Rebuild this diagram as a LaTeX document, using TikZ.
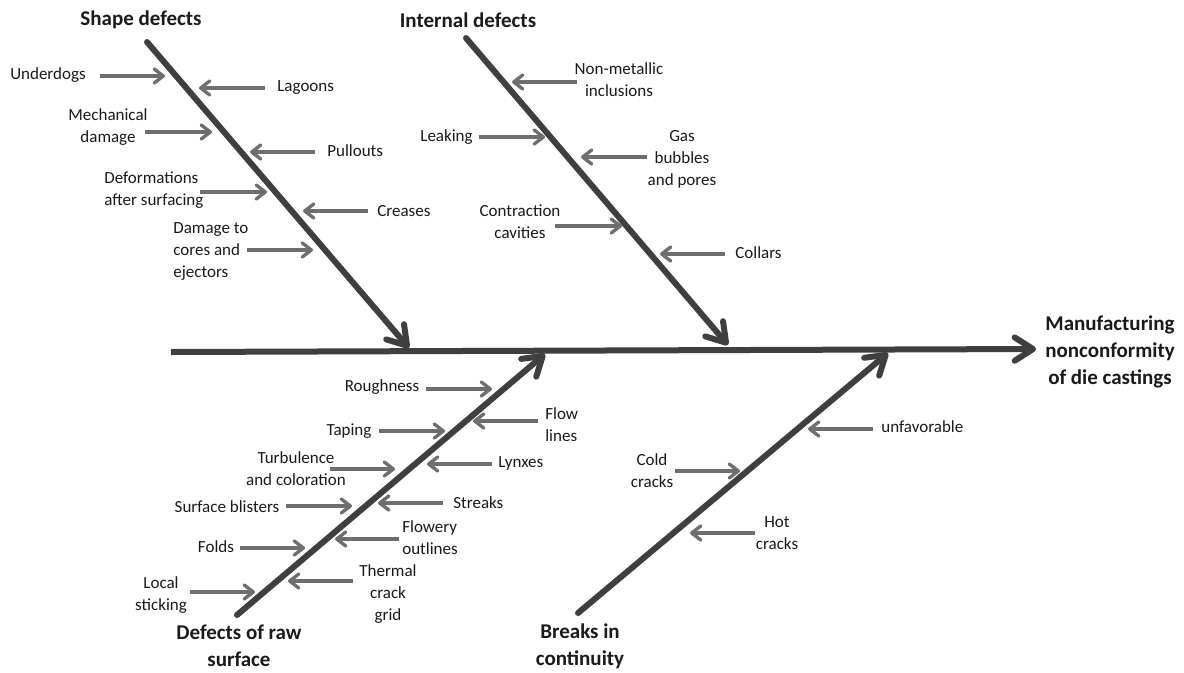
\documentclass[tikz,border=0pt]{standalone}
\usepackage{fontspec}
\setmainfont{Carlito}
\usetikzlibrary{arrows.meta}
\definecolor{bonecol}{HTML}{3F3F3F}
\definecolor{causecol}{HTML}{6E6E6E}
\definecolor{txtcol}{HTML}{1A1A1A}
\begin{document}
\begin{tikzpicture}[x=0.6pt,y=-0.6pt,
  bone/.style={draw=bonecol,line width=3.6pt,line cap=round,-{Straight Barb[length=11pt,width=14pt,round]}},
  cause/.style={draw=causecol,line width=2pt,-{Straight Barb[length=5.5pt,width=8.5pt,round]}},
  lbl/.style={inner sep=0pt,text=txtcol,font=\fontsize{10.2pt}{13.2pt}\selectfont},
  ttl/.style={inner sep=0pt,text=txtcol,align=center,font=\bfseries\fontsize{12.6pt}{16.2pt}\selectfont}]
\fill[white] (0,0) rectangle (1184,672);
\useasboundingbox (0,0) rectangle (1184,672);

% titles
\node[ttl] (tshape) at (141,20) {Shape defects};
\node[ttl] (tint) at (468,20) {Internal defects};
\node[ttl] (traw) at (239,646) {Defects of raw\\surface};
\node[ttl] (tbrk) at (580,646) {Breaks in\\continuity};
\node[ttl] (teff) at (1110,352) {Manufacturing\\nonconformity\\of die castings};

% spine and bones
\coordinate (sp0) at (171,352);
\coordinate (sp1) at (1036,349);
\coordinate (b1s) at (147,42);  \coordinate (b1t) at (409,348);
\coordinate (b2s) at (466,38);  \coordinate (b2t) at (728,345);
\coordinate (b3s) at (237,615); \coordinate (b3t) at (545,354);
\coordinate (b4s) at (578,613); \coordinate (b4t) at (888,353);
\draw[bone,line cap=butt] (sp0) -- (sp1);
\draw[bone] (b1s) -- (b1t);
\draw[bone] (b2s) -- (b2t);
\draw[bone] (b3s) -- (b3t);
\draw[bone] (b4s) -- (b4t);

% shape defects
\node[lbl] (l1) at (48,75) {Underdogs};
\node[lbl,anchor=west] (l2) at (277,88) {Lagoons};
\node[lbl,align=center] (l3) at (108,127) {Mechanical\\damage};
\node[lbl,anchor=west] (l4) at (327,151) {Pullouts};
\node[lbl,anchor=west,align=left] (l5) at (104,190) {Deformations\\after surfacing};
\node[lbl,anchor=west] (l6) at (377,211) {Creases};
\node[lbl,anchor=west,align=left] (l7) at (173,251) {Damage to\\cores and\\ejectors};
\coordinate (a1s) at (100,76);  \coordinate (a1t) at (165,76);
\coordinate (a2s) at (265,88);  \coordinate (a2t) at (199,88);
\coordinate (a3s) at (145,132); \coordinate (a3t) at (212,132);
\coordinate (a4s) at (315,152); \coordinate (a4t) at (250,152);
\coordinate (a5s) at (200,192); \coordinate (a5t) at (267,192);
\coordinate (a6s) at (368,211); \coordinate (a6t) at (303,211);
\coordinate (a7s) at (247,250); \coordinate (a7t) at (313,250);
\draw[cause] (a1s) -- (a1t);
\draw[cause] (a2s) -- (a2t);
\draw[cause] (a3s) -- (a3t);
\draw[cause] (a4s) -- (a4t);
\draw[cause] (a5s) -- (a5t);
\draw[cause] (a6s) -- (a6t);
\draw[cause] (a7s) -- (a7t);

% internal defects
\node[lbl,align=center] (m1) at (619,80) {Non-metallic\\inclusions};
\node[lbl,anchor=east] (m2) at (473,137) {Leaking};
\node[lbl,align=center] (m3) at (682,159) {Gas\\bubbles\\and pores};
\node[lbl,align=center] (m4) at (520,222) {Contraction\\cavities};
\node[lbl,anchor=west] (m5) at (735,253) {Collars};
\coordinate (c1s) at (577,82);  \coordinate (c1t) at (512,82);
\coordinate (c2s) at (479,137); \coordinate (c2t) at (545,137);
\coordinate (c3s) at (647,157); \coordinate (c3t) at (581,157);
\coordinate (c4s) at (555,226); \coordinate (c4t) at (622,226);
\coordinate (c5s) at (725,254); \coordinate (c5t) at (660,254);
\draw[cause] (c1s) -- (c1t);
\draw[cause] (c2s) -- (c2t);
\draw[cause] (c3s) -- (c3t);
\draw[cause] (c4s) -- (c4t);
\draw[cause] (c5s) -- (c5t);

% defects of raw surface
\node[lbl] (r1) at (382,387) {Roughness};
\node[lbl,anchor=west,align=left] (r2) at (545,425) {Flow\\lines};
\node[lbl] (r3) at (349,431) {Taping};
\node[lbl,anchor=west] (r4) at (498,463) {Lynxes};
\node[lbl,align=center] (r5) at (296,469) {Turbulence\\and coloration};
\node[lbl,anchor=west] (r6) at (453,503) {Streaks};
\node[lbl] (r7) at (227,507) {Surface blisters};
\node[lbl,anchor=west,align=left] (r8) at (402,538) {Flowery\\outlines};
\node[lbl] (r9) at (216,547) {Folds};
\node[lbl,align=center] (r10) at (388,594) {Thermal\\crack\\grid};
\node[lbl,align=center] (r11) at (161,595) {Local\\sticking};
\coordinate (d1s) at (426,389);  \coordinate (d1t) at (492,389);
\coordinate (d2s) at (538,421);  \coordinate (d2t) at (473,421);
\coordinate (d3s) at (379,431);  \coordinate (d3t) at (445,431);
\coordinate (d4s) at (492,464);  \coordinate (d4t) at (427,464);
\coordinate (d5s) at (330,469);  \coordinate (d5t) at (395,469);
\coordinate (d6s) at (443,503);  \coordinate (d6t) at (378,503);
\coordinate (d7s) at (286,506);  \coordinate (d7t) at (352,506);
\coordinate (d8s) at (399,539);  \coordinate (d8t) at (335,539);
\coordinate (d9s) at (240,548);  \coordinate (d9t) at (305,548);
\coordinate (d10s) at (353,581); \coordinate (d10t) at (288,581);
\coordinate (d11s) at (190,592); \coordinate (d11t) at (255,592);
\draw[cause] (d1s) -- (d1t);
\draw[cause] (d2s) -- (d2t);
\draw[cause] (d3s) -- (d3t);
\draw[cause] (d4s) -- (d4t);
\draw[cause] (d5s) -- (d5t);
\draw[cause] (d6s) -- (d6t);
\draw[cause] (d7s) -- (d7t);
\draw[cause] (d8s) -- (d8t);
\draw[cause] (d9s) -- (d9t);
\draw[cause] (d10s) -- (d10t);
\draw[cause] (d11s) -- (d11t);

% breaks in continuity
\node[lbl,anchor=west] (k1) at (881,427) {unfavorable};
\node[lbl,align=center] (k2) at (652,471) {Cold\\cracks};
\node[lbl,align=center] (k3) at (777,533) {Hot\\cracks};
\coordinate (e1s) at (873,429); \coordinate (e1t) at (808,429);
\coordinate (e2s) at (675,471); \coordinate (e2t) at (740,471);
\coordinate (e3s) at (755,533); \coordinate (e3t) at (690,533);
\draw[cause] (e1s) -- (e1t);
\draw[cause] (e2s) -- (e2t);
\draw[cause] (e3s) -- (e3t);
\end{tikzpicture}
\end{document}
